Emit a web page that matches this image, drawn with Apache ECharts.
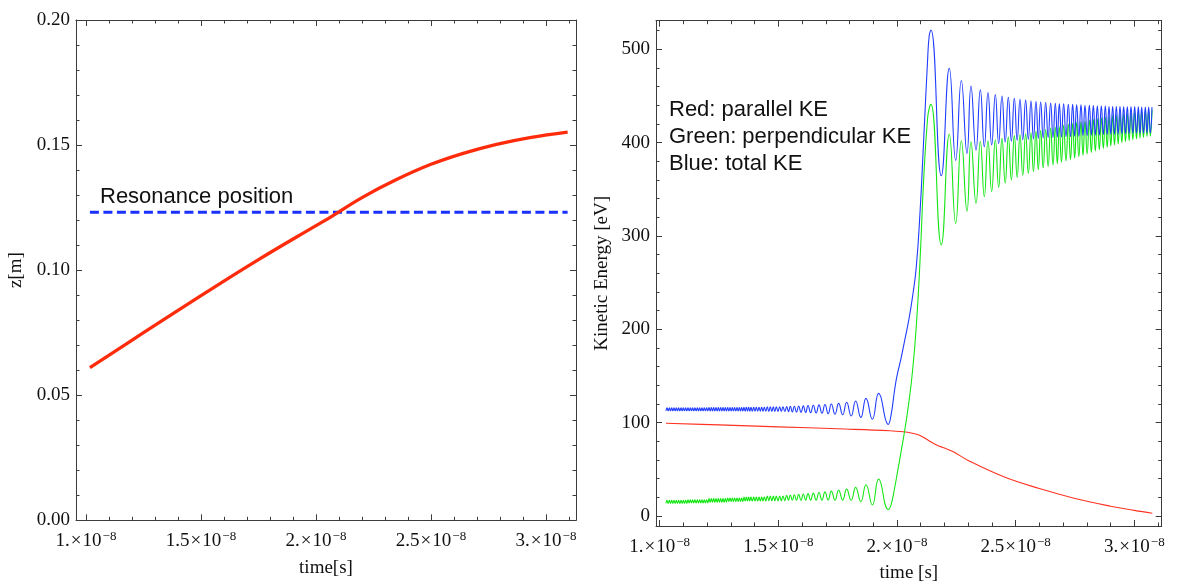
<!DOCTYPE html>
<html><head><meta charset="utf-8">
<script src="https://cdn.jsdelivr.net/npm/echarts@6/dist/echarts.min.js"></script>
<style>html,body{margin:0;padding:0;background:#fff}#c{width:1178px;height:584px}</style>
</head><body><div id="c"></div>
<script>
// ---------- data (time in units of 1e-8 s) ----------
// left panel: z position
const leftT = [1.017, 1.25, 1.5, 1.75, 2.0, 2.06, 2.2, 2.35, 2.5, 2.64, 2.785, 2.93, 3.094];
const leftZ = [0.0610, 0.0750, 0.0898, 0.1042, 0.1178, 0.1210, 0.1290, 0.1362, 0.1423, 0.1467, 0.1503, 0.1530, 0.1552];
const resT = [1.017, 3.094];
const resZ = [0.1231, 0.1231];
const resLabel = 'Resonance position';

// right panel: red = parallel KE
const redT = [1.0265, 1.25, 1.5, 1.75, 1.97, 2.027, 2.06, 2.097, 2.13, 2.167, 2.2, 2.237, 2.3, 2.45, 2.6, 2.75, 2.9, 3.0, 3.076];
const redV = [99.3, 97.6, 95.5, 93.4, 91.4, 90.3, 89.0, 86.3, 81.5, 76.0, 72.8, 68.9, 59.5, 42.0, 29.4, 18.8, 10.5, 6.0, 3.0];

// pre-resonance oscillation: alternating peak / trough times
const preT = [1.0265,
 1.0308,1.0357, 1.0406,1.0455, 1.0504,1.0554, 1.0603,1.0652, 1.0701,1.0750, 1.0799,1.0849, 1.0898,1.0947, 1.0996,1.1045, 1.1094,1.1144,
 1.1193,1.1242, 1.1291,1.1340, 1.1389,1.1439, 1.1488,1.1537, 1.1586,1.1635, 1.1684,1.1734, 1.1783,1.1832, 1.1881,1.1930, 1.1979,1.2029,
 1.2078,1.2127, 1.2176,1.2225, 1.2274,1.2324, 1.2373,1.2422, 1.2471,1.2520, 1.2569,1.2619, 1.2668,1.2717, 1.2766,1.2815,
 1.2864,1.2914, 1.2963,1.3012, 1.3061,1.3110, 1.3159,1.3209, 1.3258,1.3307, 1.3356,1.3405, 1.3454,1.3504,
 1.3553,1.3602, 1.3651,1.3700, 1.3749,1.3798, 1.3847,1.3904, 1.3960,1.4016, 1.4072,1.4129, 1.4185,1.4241, 1.4297,1.4353, 1.4409,1.4473,
 1.4536,1.4599, 1.4662,1.4726, 1.4789,1.4852, 1.4915,1.4986, 1.5056,1.5126, 1.5196,1.5274,
 1.5351,1.5428, 1.5505,1.5590, 1.5674,1.5765, 1.5856,1.5955, 1.6053,1.6152, 1.6250,1.6362, 1.6474,1.6594, 1.6713,1.6840,
 1.6966,1.7100, 1.7233,1.7388, 1.7542,1.7711, 1.7879,1.8069, 1.8258,1.8476, 1.8694,1.8961, 1.9228,1.9634];
const bluePre = [112.7,
 115.9,112.7, 115.9,112.7, 115.9,112.7, 115.9,112.7, 115.9,112.7, 115.9,112.7, 115.9,112.7, 115.9,112.7, 115.9,112.7,
 115.9,112.7, 115.9,112.7, 115.9,112.7, 115.9,112.7, 115.9,112.7, 115.9,112.7, 115.9,112.7, 115.9,112.7, 115.9,112.7,
 116.2,112.5, 116.2,112.5, 116.2,112.5, 116.2,112.5, 116.2,112.5, 116.2,112.5, 116.2,112.5, 116.2,112.5,
 116.2,112.5, 116.2,112.5, 116.2,112.5, 116.2,112.5, 116.2,112.5, 116.2,112.5, 116.2,112.5,
 116.5,112.2, 116.5,112.2, 116.5,112.2, 116.5,112.2, 116.5,112.2, 116.5,112.2, 116.5,112.2, 116.5,112.2, 116.5,112.2,
 116.9,111.9, 116.9,111.9, 116.9,111.9, 116.9,111.9, 116.9,111.9, 116.9,111.9,
 117.2,111.7, 117.4,111.5, 117.6,111.3, 117.8,111.1, 118.0,110.9, 118.3,110.6, 118.6,110.3, 119.0,110.0,
 119.5,109.6, 120.0,109.0, 120.7,108.4, 121.8,107.1, 123.2,105.7, 126.0,103.6, 131.4,98.2];
const greenPre = [13.5,
 16.7,13.6, 16.7,13.6, 16.7,13.6, 16.7,13.6, 16.7,13.6, 16.7,13.6, 16.7,13.6, 16.7,13.6, 16.7,13.6,
 17.3,14.1, 17.3,14.1, 17.3,14.1, 17.3,14.1, 17.3,14.1, 17.3,14.1, 17.3,14.1, 17.3,14.1, 17.3,14.1,
 18.6,14.9, 18.6,14.9, 18.6,14.9, 18.6,14.9, 18.6,14.9, 18.6,14.9, 18.6,14.9, 18.6,14.9,
 19.3,15.5, 19.3,15.5, 19.3,15.5, 19.3,15.5, 19.3,15.5, 19.3,15.5, 19.3,15.5,
 20.2,16.0, 20.2,16.0, 20.2,16.0, 20.2,16.0, 20.2,16.0, 20.2,16.0, 20.2,16.0, 20.2,16.0, 20.2,16.0,
 21.4,16.5, 21.4,16.5, 21.4,16.5, 21.4,16.5, 21.4,16.5, 21.4,16.5,
 22.2,16.8, 22.5,16.8, 22.8,16.9, 23.2,16.9, 23.6,17.0, 24.0,17.0, 24.5,17.0, 25.1,17.0,
 25.9,17.0, 26.6,17.0, 27.6,17.0, 28.8,16.8, 30.7,15.3, 33.5,11.8, 39.5,6.9];

// resonance crossing: steep rise
const riseT = [1.975, 1.99, 2.0, 2.018, 2.034, 2.049, 2.065, 2.081, 2.097, 2.1125, 2.1285, 2.136];
const blueRise = [108, 135, 150, 170, 190, 209, 234, 266, 325, 403, 486, 515];
const greenRise = [12, 30, 44, 70, 94, 120, 154, 202, 273, 361, 425, 437];

// post-resonance oscillation: alternating peak / trough times
const postT = [2.1433, 2.1867, 2.2205, 2.2474, 2.2711, 2.295, 2.3118, 2.333, 2.3512, 2.368, 2.3835, 2.399, 2.4144, 2.4285,
 2.4425, 2.456, 2.4692, 2.482, 2.4945, 2.5064, 2.5183, 2.530, 2.5422, 2.5535, 2.5647, 2.575, 2.5857, 2.5955, 2.6054, 2.616,
 2.6265, 2.637, 2.6476, 2.6575, 2.6673, 2.6757, 2.6841, 2.6932, 2.7023, 2.7122, 2.7220, 2.7312, 2.7403, 2.7487, 2.7571, 2.7663,
 2.7754, 2.7839, 2.7923, 2.8014, 2.8105, 2.819, 2.8274, 2.8358, 2.8442, 2.8527, 2.8611, 2.8695, 2.8779, 2.8857, 2.8934, 2.9011,
 2.9088, 2.9166, 2.9243, 2.932, 2.9397, 2.9475, 2.9552, 2.9629, 2.9706, 2.9784, 2.9861, 2.9939, 3.0016, 3.0093, 3.0170, 3.024,
 3.0311, 3.0388, 3.0465, 3.0536, 3.0606, 3.0676, 3.0746];
const bluePost = [520.6, 364.5, 479.5, 381, 466.5, 388.5, 460.5, 392, 456.5, 395.5, 453.5, 397.5, 451.5, 399,
 450, 400.5, 448.5, 401.5, 447.5, 402.5, 446.5, 403, 445.5, 403.5, 444.5, 404, 444, 404.5, 443.5, 405,
 443, 405.5, 442.5, 405.5, 442, 406, 441.5, 406, 441.5, 406.5, 441, 406.5, 441, 407, 440.5, 407,
 440.5, 407.5, 440, 407.5, 440, 408, 440, 408, 439.5, 408, 439.5, 408.5, 439.5, 408.5, 439, 409,
 439, 409, 439, 409, 439, 409.5, 438.5, 409.5, 438.5, 409.5, 438.5, 410, 438.5, 410, 438.5, 410,
 438, 410, 438, 410.5, 438, 410.5, 438];
const greenPost = [441, 290.5, 409, 313.5, 402, 326.5, 401, 335, 401.5, 342, 402, 347.5, 403, 352,
 404.5, 356.5, 406, 360, 407.5, 363, 408.5, 365, 409.5, 367, 410.5, 369, 412, 371, 413, 373,
 414, 374.5, 415.5, 376, 416.5, 377.5, 417, 379, 418.5, 380.5, 419.5, 382, 420.5, 383.5, 421.5, 385,
 422.5, 386.5, 423, 388, 424, 389.5, 425, 391, 425.5, 392.5, 426.5, 394, 427.5, 395, 428, 396.5,
 429, 397.5, 429.5, 398.5, 430.5, 400, 430.5, 401, 431, 402, 432, 403, 432.5, 404, 433.5, 405,
 433.5, 405.5, 434, 406.5, 434.5, 407, 435];

// axes ticks
const xMajor = [1, 1.5, 2, 2.5, 3];
const xMajorText = ['1.', '1.5', '2.', '2.5', '3.'];
const xMinor = [1.1, 1.2, 1.3, 1.4, 1.6, 1.7, 1.8, 1.9, 2.1, 2.2, 2.3, 2.4, 2.6, 2.7, 2.8, 2.9, 3.1];
const zMajor = [0, 0.05, 0.1, 0.15, 0.2];
const zMinor = [0.01, 0.02, 0.03, 0.04, 0.06, 0.07, 0.08, 0.09, 0.11, 0.12, 0.13, 0.14, 0.16, 0.17, 0.18, 0.19];
const keMajor = [0, 100, 200, 300, 400, 500];
const keMinor = [20, 40, 60, 80, 120, 140, 160, 180, 220, 240, 260, 280, 320, 340, 360, 380, 420, 440, 460, 480, 520];
const legendLines = ['Red: parallel KE', 'Green: perpendicular KE', 'Blue: total KE'];

// ---------- chart ----------
const SERIF = '"Liberation Serif", "DejaVu Serif", serif';
const SANS = '"Liberation Sans", Arial, sans-serif';
const FRAME = '#3c3c3c';
const TXT = '#111';

function pairs(t, v) { return t.map((x, i) => [x, v[i]]); }

function xFmt(v) {
  const i = xMajor.findIndex(m => Math.abs(m - v) < 1e-6);
  return i < 0 ? '' : '{n|' + xMajorText[i] + '}{m|×}{n|10}{s|−8}';
}
const xRich = {
  n: {fontFamily: SERIF, fontSize: 19, color: TXT},
  m: {fontFamily: SERIF, fontSize: 19, color: TXT, padding: [0, 1, 0, 1]},
  s: {fontFamily: SERIF, fontSize: 13, color: TXT, padding: [0, 0, 9, 1]}
};

function axes(dim, grid, min, max, vals, len, withLine, label, name, nameGap) {
  const sides = dim === 'x' ? ['bottom', 'top'] : ['left', 'right'];
  return sides.map((pos, k) => {
    const a = {
      type: 'value', gridIndex: grid, position: pos, min: min, max: max,
      axisLine: {show: withLine, onZero: false, lineStyle: {color: FRAME, width: 1}},
      axisTick: {show: true, inside: true, length: len, customValues: vals, lineStyle: {color: FRAME, width: 1}},
      axisLabel: {show: false},
      splitLine: {show: false}, minorTick: {show: false}, minorSplitLine: {show: false}
    };
    if (k === 0 && label) {
      a.axisLabel = Object.assign({show: true, customValues: label.vals, showMinLabel: true, showMaxLabel: true}, label.style);
      a.name = name;
      a.nameLocation = 'middle';
      a.nameGap = nameGap;
      a.nameTextStyle = {fontFamily: SERIF, fontSize: 19, color: TXT};
    }
    return a;
  });
}

const Lrect = {left: 76, top: 20, width: 500, height: 500.3};
const Rrect = {left: 656, top: 20.7, width: 505.7, height: 505.3};
const gridBase = {containLabel: false, outerBoundsMode: 'none', show: false};

const xLabel = {vals: xMajor, style: {formatter: xFmt, rich: xRich, margin: 10}};
const zLabel = {vals: zMajor, style: {formatter: v => v.toFixed(2), fontFamily: SERIF, fontSize: 19, color: TXT, margin: 6}};
const keLabel = {vals: keMajor, style: {formatter: v => String(Math.round(v)), fontFamily: SERIF, fontSize: 19, color: TXT, margin: 6}};

const xAxis = [].concat(
  axes('x', 0, 0.9565, 3.1304, xMajor, 6, true, xLabel, 'time[s]', 38),
  axes('x', 1, 0.9565, 3.1304, xMinor, 3.5, false, null),
  axes('x', 2, 0.9845, 3.1155, xMajor, 6, true, xLabel, 'time [s]', 38),
  axes('x', 3, 0.9845, 3.1155, xMinor, 3.5, false, null)
);
const yAxis = [].concat(
  axes('y', 0, 0, 0.2, zMajor, 6, true, zLabel, 'z[m]', 50),
  axes('y', 1, 0, 0.2, zMinor, 3.5, false, null),
  axes('y', 2, -10.71, 530.6, keMajor, 6, true, keLabel, 'Kinetic Energy [eV]', 44),
  axes('y', 3, -10.71, 530.6, keMinor, 3.5, false, null)
);

const keT = preT.concat(riseT, postT);
const blueKE = bluePre.concat(blueRise, bluePost);
const greenKE = greenPre.concat(greenRise, greenPost);

const chart = echarts.init(document.getElementById('c'), null, {renderer: 'canvas'});
chart.setOption({
  animation: false,
  backgroundColor: '#ffffff',
  grid: [
    Object.assign({}, gridBase, Lrect), Object.assign({}, gridBase, Lrect),
    Object.assign({}, gridBase, Rrect), Object.assign({}, gridBase, Rrect)
  ],
  xAxis: xAxis,
  yAxis: yAxis,
  series: [
    {type: 'line', xAxisIndex: 0, yAxisIndex: 0, data: pairs(resT, resZ), symbol: 'none',
     lineStyle: {color: '#1a30ff', width: 3, type: [9, 4.5]}},
    {type: 'line', xAxisIndex: 0, yAxisIndex: 0, data: pairs(leftT, leftZ), symbol: 'none', smooth: 0.4,
     lineStyle: {color: '#ff2c0c', width: 3.3}},
    {type: 'line', xAxisIndex: 4, yAxisIndex: 4, data: pairs(redT, redV), symbol: 'none', smooth: 0.4,
     lineStyle: {color: '#ff3322', width: 1.1}},
    {type: 'line', xAxisIndex: 4, yAxisIndex: 4, data: pairs(keT, greenKE), symbol: 'none', smooth: 0.5,
     lineStyle: {color: '#14e614', width: 1.1}},
    {type: 'line', xAxisIndex: 4, yAxisIndex: 4, data: pairs(keT, blueKE), symbol: 'none', smooth: 0.5,
     lineStyle: {color: '#1f3cff', width: 1.1}}
  ],
  graphic: [
    {type: 'text', left: 100, top: 184, silent: true,
     style: {text: resLabel, font: '22px ' + SANS, fill: TXT, lineHeight: 26}},
    {type: 'text', left: 669, top: 96.6, silent: true,
     style: {text: legendLines.join('\n'), font: '22px ' + SANS, fill: TXT, lineHeight: 26.8}}
  ]
});
</script>
</body></html>
